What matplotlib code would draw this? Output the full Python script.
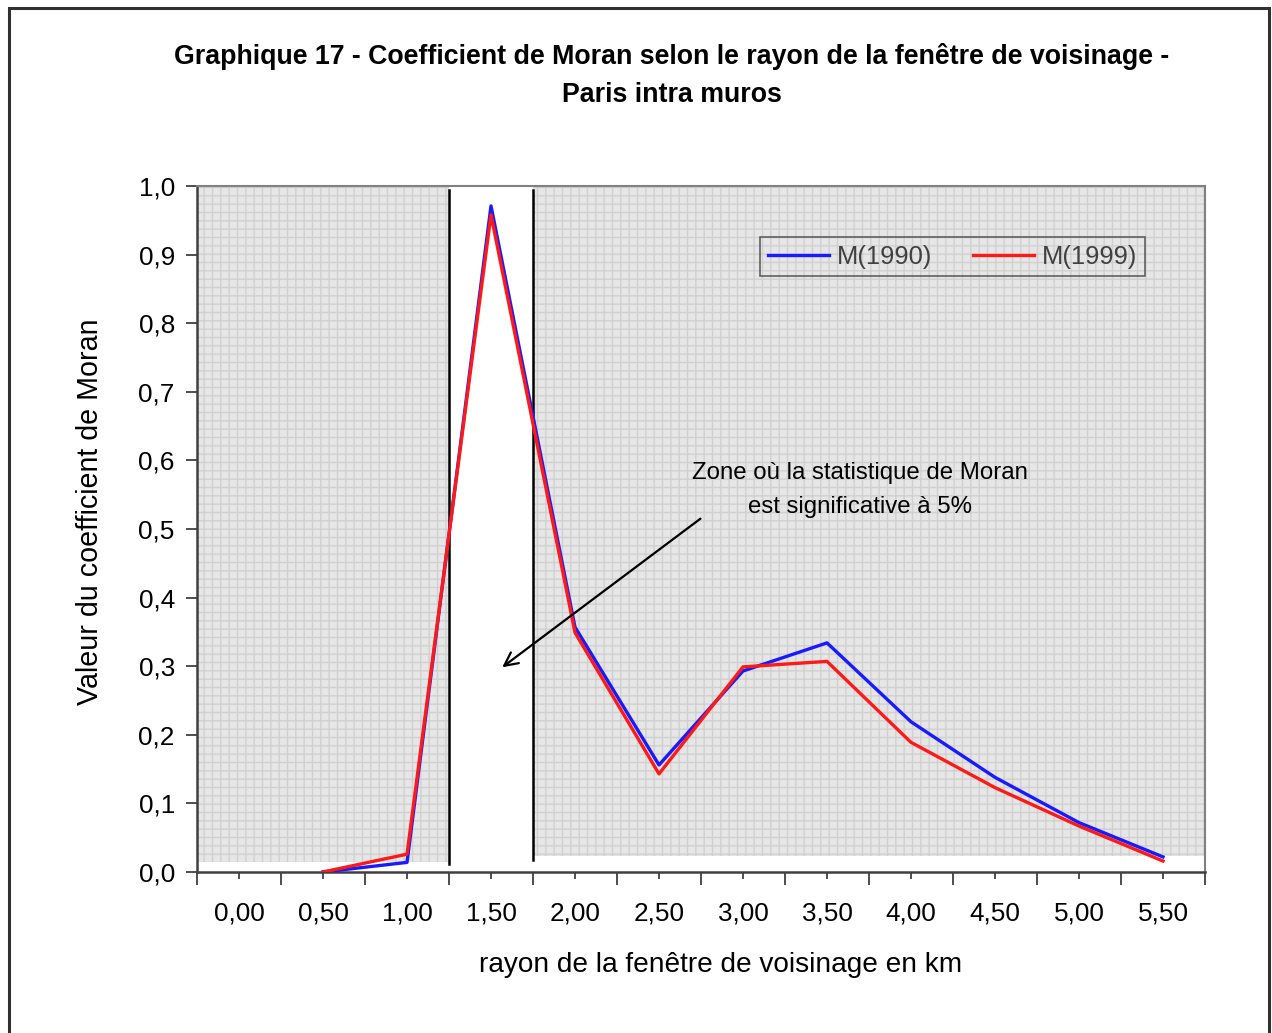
import matplotlib
matplotlib.use('Agg')
import matplotlib.pyplot as plt
from matplotlib.patches import Rectangle
import numpy as np

plt.rcParams['font.family'] = ['Liberation Sans', 'DejaVu Sans']
plt.rcParams['hatch.linewidth'] = 1.0
plt.rcParams['hatch.color'] = '#d0d0d0'

# catégories (rayon en km) et valeurs
rayons = ['0,00', '0,50', '1,00', '1,50', '2,00', '2,50', '3,00',
          '3,50', '4,00', '4,50', '5,00', '5,50']
m1990 = [np.nan, 0.0, 0.014, 0.971, 0.357, 0.156, 0.293, 0.334, 0.219, 0.138, 0.072, 0.022]
m1999 = [np.nan, 0.0, 0.026, 0.958, 0.349, 0.143, 0.299, 0.307, 0.189, 0.123, 0.067, 0.016]
yticks = [0.0, 0.1, 0.2, 0.3, 0.4, 0.5, 0.6, 0.7, 0.8, 0.9, 1.0]

# zone significative : limites de la catégorie 1,50 (indice 3)
zone = (2.5, 3.5)

fig = plt.figure(figsize=(12.72, 10.33), dpi=100)
W, H = 1272, 1033

# cadre autour de la figure
fig.patches.append(Rectangle((9 / W, -0.01), (1269 - 9) / W, 1.01 - 8 / H,
                             transform=fig.transFigure, fill=False,
                             edgecolor='#303030', linewidth=2.2))

ax = fig.add_axes([197 / W, 1 - 872 / H, (1205 - 197) / W, (872 - 186) / H])
x = np.arange(len(rayons))

# fond gris tramé hors zone significative
ax.add_patch(Rectangle((-0.5, 0.0146), zone[0] + 0.5, 1 - 0.0146,
                       facecolor='#e6e6e6', hatch='++', edgecolor='#d0d0d0',
                       linewidth=0, zorder=0))
ax.add_patch(Rectangle((zone[1], 0.023), len(rayons) - 0.5 - zone[1], 1 - 0.023,
                       facecolor='#e6e6e6', hatch='++', edgecolor='#d0d0d0',
                       linewidth=0, zorder=0))
ax.plot([zone[0], zone[0]], [0.012, 0.994], color='black', lw=1.8, zorder=3)
ax.plot([zone[1], zone[1]], [0.0175, 0.994], color='black', lw=1.8, zorder=3)

ax.plot(x, m1990, color='#1a1aff', lw=2.4, label='M(1990)', zorder=4)
ax.plot(x, m1999, color='#ff1a1a', lw=2.4, label='M(1999)', zorder=5)

ax.set_xlim(-0.5, len(rayons) - 0.5)
ax.set_ylim(0, 1.0)

ax.set_xticks(x)
ax.set_xticklabels(rayons, fontsize=18.8)
ax.set_xticks(np.arange(-0.5, len(rayons)), minor=True)
ax.tick_params(axis='x', which='major', length=5, width=1.3, direction='out',
               pad=16.5, color='#404040')
ax.tick_params(axis='x', which='minor', length=9, width=1.3, direction='out',
               color='#404040')
ax.set_yticks(yticks)
ax.set_yticklabels([('%.1f' % v).replace('.', ',') for v in yticks], fontsize=18.8)
ax.tick_params(axis='y', length=8, width=1.3, direction='out', pad=8,
               color='#404040')

for s in ['left', 'bottom']:
    ax.spines[s].set_color('#404040')
    ax.spines[s].set_linewidth(1.8)
for s in ['top', 'right']:
    ax.spines[s].set_color('#808080')
    ax.spines[s].set_linewidth(1.5)

leg = ax.legend(loc='center', ncol=2, fontsize=18.4,
                bbox_to_anchor=(0.5575, 0.867, 0.384, 0.06),
                frameon=True, fancybox=False, handlelength=2.4,
                columnspacing=1.6, handletextpad=0.3, borderpad=0.3)
leg.get_frame().set_facecolor('none')
leg.get_frame().set_edgecolor('#404040')
leg.get_frame().set_linewidth(1.2)
for t in leg.get_texts():
    t.set_color('#404040')

ax.annotate('', xy=(3.107, 0.296), xytext=(5.52, 0.5175),
            arrowprops=dict(arrowstyle='->', color='black', lw=1.6,
                            mutation_scale=24), zorder=6)
ax.text(7.39, 0.557, 'Zone où la statistique de Moran\nest significative à 5%',
        fontsize=17.3, ha='center', va='center', linespacing=1.72)

fig.text(672 / W, 1 - 75 / H,
         'Graphique 17 - Coefficient de Moran selon le rayon de la fenêtre de voisinage -\nParis intra muros',
         fontsize=19.3, fontweight='bold', ha='center', va='center', linespacing=1.6)
fig.text(721 / W, 1 - 965 / H, 'rayon de la fenêtre de voisinage en km',
         fontsize=20.2, ha='center', va='center')
fig.text(90 / W, 1 - 512 / H, 'Valeur du coefficient de Moran',
         fontsize=20.6, ha='center', va='center', rotation=90)

fig.savefig('out.png', dpi=100)
